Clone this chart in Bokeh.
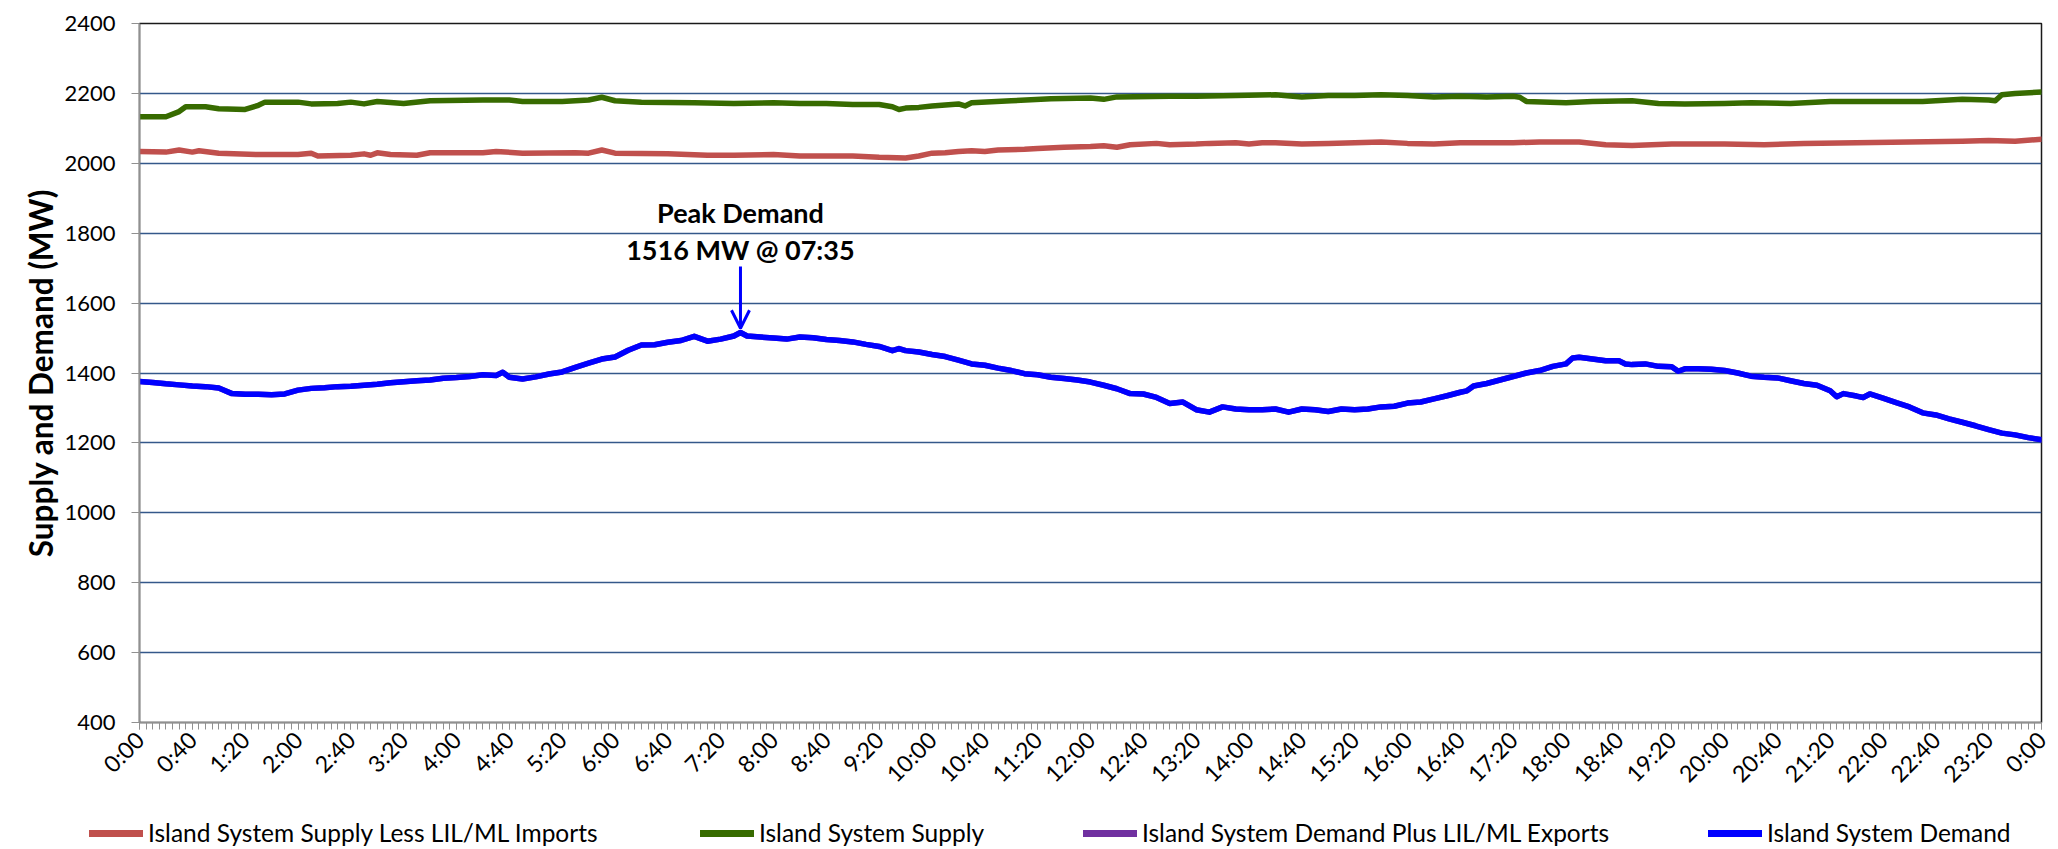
import math
from bokeh.plotting import figure
from bokeh.models import (Range1d, FixedTicker, Legend, LegendItem, Arrow,
                          OpenHead, Label, Title)
from bokeh.embed import file_html
from bokeh.resources import INLINE

# ---------------- data (minutes after midnight, MW) ----------------
demand_t = [0, 10, 20, 30, 40, 50, 60, 70, 80, 90, 100, 110, 120, 130, 140, 150,
            160, 170, 180, 190, 200, 210, 220, 230, 240, 250, 260, 270, 275, 280,
            290, 300, 310, 320, 330, 340, 350, 360, 370, 380, 390, 400, 410, 420,
            430, 440, 450, 455, 460, 470, 480, 490, 500, 510, 520, 530, 540, 550,
            560, 570, 575, 580, 590, 600, 610, 620, 630, 640, 650, 660, 670, 680,
            690, 700, 710, 720, 730, 740, 750, 760, 770, 780, 790, 800, 810, 820,
            830, 840, 850, 860, 870, 880, 890, 900, 910, 920, 930, 940, 950, 960,
            970, 980, 990, 1000, 1005, 1010, 1020, 1030, 1040, 1050, 1060, 1070,
            1080, 1085, 1090, 1100, 1110, 1120, 1125, 1130, 1140, 1150, 1160, 1165,
            1170, 1180, 1190, 1200, 1210, 1220, 1230, 1240, 1250, 1260, 1270, 1280,
            1285, 1290, 1300, 1305, 1310, 1320, 1330, 1340, 1350, 1360, 1370, 1380,
            1390, 1400, 1410, 1420, 1430, 1440]
demand_mw = [1376, 1373, 1369, 1366, 1363, 1361, 1357, 1341, 1339, 1339, 1338, 1340,
             1351, 1356, 1358, 1361, 1362, 1365, 1368, 1372, 1375, 1378, 1380, 1385,
             1387, 1390, 1395, 1393, 1402, 1388, 1383, 1389, 1397, 1403, 1416, 1428,
             1440, 1446, 1465, 1480, 1481, 1488, 1493, 1505, 1491, 1497, 1506, 1516,
             1506, 1503, 1500, 1497, 1503, 1501, 1496, 1493, 1489, 1482, 1476, 1464,
             1470, 1464, 1460, 1453, 1447, 1437, 1426, 1422, 1414, 1407, 1398, 1395,
             1388, 1384, 1380, 1374, 1365, 1355, 1341, 1340, 1330, 1313, 1317, 1295,
             1288, 1303, 1297, 1295, 1295, 1297, 1288, 1297, 1295, 1290, 1297, 1295,
             1297, 1303, 1305, 1314, 1317, 1326, 1335, 1345, 1349, 1363, 1370, 1380,
             1390, 1400, 1407, 1419, 1426, 1443, 1445, 1440, 1435, 1435, 1426, 1424,
             1426, 1419, 1418, 1405, 1412, 1412, 1411, 1407, 1400, 1391, 1388, 1386,
             1378, 1370, 1365, 1349, 1332, 1341, 1334, 1330, 1340, 1328, 1315, 1303,
             1286, 1280, 1269, 1259, 1249, 1238, 1228, 1223, 1215, 1209]
# demand plus exports coincides with demand (no exports), drawn beneath it
demand_plus_exports_mw = list(demand_mw)

supply_t = [0, 20, 30, 35, 50, 60, 80, 90, 95, 120, 130, 150, 160, 170, 180, 200,
            220, 260, 280, 290, 320, 340, 350, 360, 380, 420, 450, 480, 500, 520,
            540, 560, 570, 575, 580, 590, 600, 620, 625, 630, 660, 690, 720, 730,
            740, 780, 800, 830, 860, 880, 900, 920, 940, 960, 980, 1000, 1020, 1040,
            1045, 1050, 1080, 1100, 1130, 1150, 1170, 1200, 1220, 1250, 1280, 1320,
            1350, 1380, 1400, 1405, 1410, 1420, 1440]
supply_mw = [2133, 2133, 2148, 2162, 2162, 2156, 2154, 2166, 2175, 2175, 2170, 2171,
             2175, 2170, 2177, 2171, 2179, 2181, 2181, 2177, 2177, 2181, 2189, 2179,
             2175, 2173, 2171, 2173, 2171, 2171, 2168, 2168, 2162, 2154, 2158, 2160,
             2164, 2170, 2164, 2173, 2179, 2185, 2187, 2183, 2190, 2192, 2192, 2194,
             2196, 2190, 2194, 2194, 2196, 2194, 2190, 2192, 2190, 2192, 2189, 2177,
             2173, 2177, 2179, 2171, 2170, 2171, 2173, 2171, 2177, 2177, 2177, 2183,
             2181, 2179, 2196, 2200, 2204]

supply_less_t = [0, 20, 30, 40, 45, 60, 90, 120, 130, 135, 160, 170, 175, 180, 190,
                 210, 220, 260, 270, 290, 330, 340, 350, 360, 400, 430, 450, 480, 500,
                 540, 560, 580, 590, 600, 610, 620, 630, 640, 650, 670, 680, 700, 720,
                 730, 740, 750, 770, 780, 800, 810, 830, 840, 850, 860, 880, 900, 920,
                 940, 960, 980, 1000, 1040, 1060, 1090, 1110, 1130, 1160, 1200, 1230,
                 1260, 1300, 1340, 1380, 1400, 1420, 1440]
supply_less_mw = [2034, 2032, 2038, 2032, 2036, 2029, 2025, 2025, 2029, 2021, 2023,
                  2027, 2023, 2030, 2025, 2023, 2030, 2030, 2034, 2029, 2030, 2029,
                  2038, 2029, 2027, 2023, 2023, 2025, 2021, 2021, 2017, 2015, 2021,
                  2029, 2030, 2034, 2036, 2034, 2038, 2040, 2042, 2046, 2048, 2050,
                  2046, 2053, 2057, 2053, 2055, 2057, 2059, 2055, 2059, 2059, 2055,
                  2057, 2059, 2061, 2057, 2055, 2059, 2059, 2061, 2061, 2053, 2051,
                  2055, 2055, 2053, 2057, 2059, 2061, 2063, 2065, 2063, 2069]

x_tick_minutes = list(range(0, 1441, 40))
x_tick_labels = ["0:00", "0:40", "1:20", "2:00", "2:40", "3:20", "4:00", "4:40",
                 "5:20", "6:00", "6:40", "7:20", "8:00", "8:40", "9:20", "10:00",
                 "10:40", "11:20", "12:00", "12:40", "13:20", "14:00", "14:40",
                 "15:20", "16:00", "16:40", "17:20", "18:00", "18:40", "19:20",
                 "20:00", "20:40", "21:20", "22:00", "22:40", "23:20", "0:00"]
y_ticks = [400, 600, 800, 1000, 1200, 1400, 1600, 1800, 2000, 2200, 2400]

series_names = ["Island System Supply Less LIL/ML Imports", "Island System Supply",
                "Island System Demand Plus LIL/ML Exports", "Island System Demand"]
peak_minute = 455
peak_mw = 1516
peak_text = ["Peak Demand", "1516 MW @ 07:35"]

# ---------------- styling ----------------
FONT = "Lato"
RED = "#C0504D"
GREEN = "#376B00"
PURPLE = "#7030A0"
BLUE = "#0000FF"
GRID = "#34588A"
AXIS = "#909090"
COLORS = [RED, GREEN, PURPLE, BLUE]
W = 2058
H_MAIN = 800
H_LEG = 49
LW = 5.5

series_t = [supply_less_t, supply_t, demand_t, demand_t]
series_mw = [supply_less_mw, supply_mw, demand_plus_exports_mw, demand_mw]

p = figure(width=W, height=H_MAIN, output_backend="svg", toolbar_location=None,
           x_range=Range1d(0, 1440), y_range=Range1d(400, 2400),
           min_border_left=139, min_border_right=W - 2041, min_border_top=23,
           min_border_bottom=H_MAIN - 723)
p.outline_line_color = "#1A1A1A"
p.outline_line_width = 1.5
p.background_fill_color = "white"
p.border_fill_color = "white"

p.xgrid.visible = False
p.ygrid.grid_line_color = GRID
p.ygrid.grid_line_width = 1.5

# y axis
p.yaxis.ticker = FixedTicker(ticks=y_ticks)
p.yaxis.axis_line_color = AXIS
p.yaxis.axis_line_width = 1.5
p.yaxis.major_tick_line_color = AXIS
p.yaxis.major_tick_in = 0
p.yaxis.major_tick_out = 8
p.yaxis.minor_tick_line_color = None
p.yaxis.major_label_standoff = 16
p.yaxis.major_label_text_font = FONT
p.yaxis.major_label_text_font_size = "22px"
p.yaxis.major_label_text_color = "black"

# y axis title as a side title so that it can be nudged along the axis
p.add_layout(Title(text="Supply and Demand (MW)", align="center", offset=78,
                   text_font=FONT, text_font_style="bold", text_font_size="31.5px",
                   text_color="black", standoff=4), "left")

# x axis
p.xaxis.ticker = FixedTicker(ticks=x_tick_minutes, minor_ticks=list(range(0, 1441, 5)))
p.xaxis.major_label_overrides = {t: l for t, l in zip(x_tick_minutes, x_tick_labels)}
p.xaxis.axis_line_color = AXIS
p.xaxis.axis_line_width = 1.5
p.xaxis.major_tick_line_color = AXIS
p.xaxis.minor_tick_line_color = AXIS
p.xaxis.major_tick_in = 0
p.xaxis.minor_tick_in = 0
p.xaxis.major_tick_out = 7
p.xaxis.minor_tick_out = 7
p.xaxis.major_label_orientation = math.pi / 4
p.xaxis.major_label_standoff = 6
p.xaxis.major_label_text_font = FONT
p.xaxis.major_label_text_font_size = "23px"
p.xaxis.major_label_text_color = "black"

# lines (red, green, purple beneath blue)
for xs, ys, c in zip(series_t, series_mw, COLORS):
    p.line(xs, ys, line_color=c, line_width=LW, line_join="round", line_cap="round")

# annotation
p.add_layout(Arrow(end=OpenHead(size=18, line_color=BLUE, line_width=3),
                   x_start=peak_minute, y_start=1705, x_end=peak_minute, y_end=peak_mw + 12,
                   line_color=BLUE, line_width=3))
p.add_layout(Label(x=peak_minute, y=1858, text=peak_text[0], text_align="center",
                   text_baseline="middle", text_font=FONT, text_font_style="bold",
                   text_font_size="27px", text_color="black"))
p.add_layout(Label(x=peak_minute, y=1752, text=peak_text[1], text_align="center",
                   text_baseline="middle", text_font=FONT, text_font_style="bold",
                   text_font_size="27px", text_color="black"))

# ---------------- legend strip below the chart (separate root) ----------------
# the same series are drawn here, but the view range keeps them out of sight;
# only their legend swatches show
pl = figure(width=W, height=H_LEG, output_backend="svg", toolbar_location=None,
            x_range=Range1d(0, 1440), y_range=Range1d(-2, -1),
            x_axis_location=None, y_axis_location=None, min_border=0)
pl.outline_line_color = None
pl.grid.visible = False
pl.background_fill_color = "white"
pl.border_fill_color = "white"

legend_x = [89, 700, 1083, 1708]
for name, xs, ys, c, lx in zip(series_names, series_t, series_mw, COLORS, legend_x):
    r = pl.line(xs, ys, line_color=c, line_width=7, line_cap="round")
    lg = Legend(items=[LegendItem(label=name, renderers=[r])],
                location=(lx, 2), orientation="horizontal",
                glyph_width=54, glyph_height=24, label_standoff=5,
                label_text_font=FONT, label_text_font_size="24.5px",
                label_text_color="black", padding=0, margin=0, spacing=0,
                border_line_color=None, background_fill_alpha=0,
                label_height=24, click_policy="none")
    pl.add_layout(lg, "center")

open("out.html", "w").write(file_html([p, pl], INLINE))
